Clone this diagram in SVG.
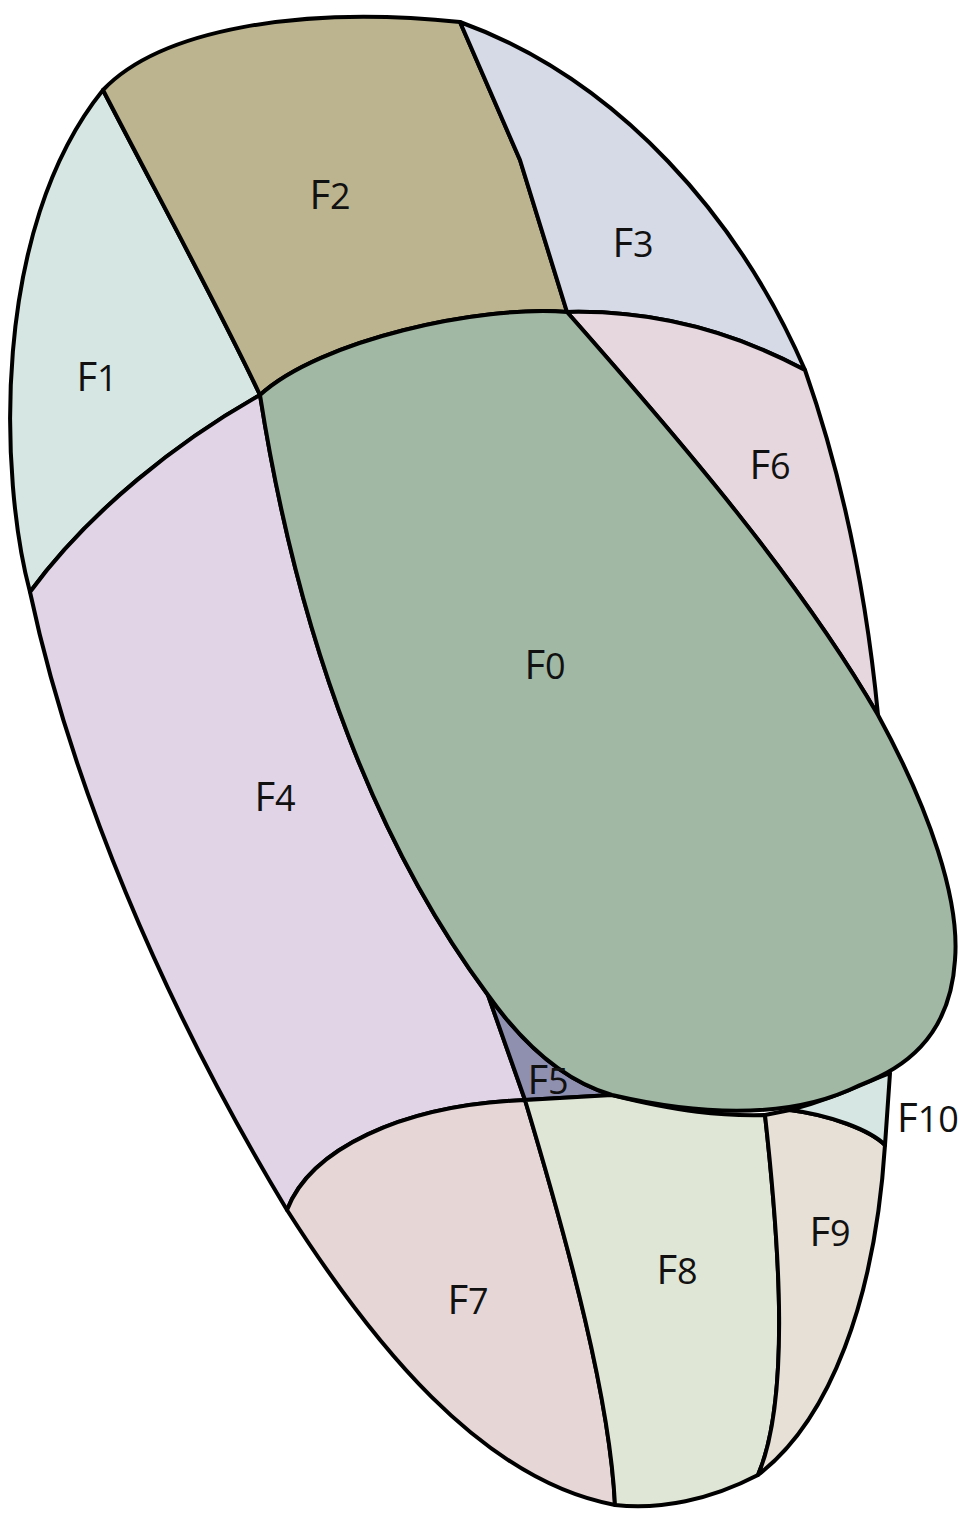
<svg xmlns="http://www.w3.org/2000/svg" width="961" height="1514" viewBox="0 0 961 1514">
<style>
path{stroke:#000;stroke-width:4;stroke-linejoin:round}
text{font-family:"Open Sans","Liberation Sans",sans-serif;font-size:40px;text-anchor:middle;fill:#111}
tspan{font-size:36px}
</style>
<rect width="961" height="1514" fill="#fff"/>
<g id="F1"><path fill="#d6e6e2" d="M103,90 C160,200 220,310 260,395 C180,440 90,510 30,592 C0,480 -10,230 103,90 Z"/><text x="97" y="391">F<tspan>1</tspan></text></g>
<g id="F2"><path fill="#bcb48f" d="M103,90 C160,30 300,5 460,22 L520,160 L567,312 C480,305 320,340 260,395 C220,310 160,200 103,90 Z"/><text x="330" y="209">F<tspan>2</tspan></text></g>
<g id="F3"><path fill="#d6dae6" d="M460,22 C620,80 740,220 805,370 C730,330 650,310 567,312 L520,160 Z"/><text x="633" y="257">F<tspan>3</tspan></text></g>
<g id="F6"><path fill="#e6d6de" d="M567,312 C650,310 730,330 805,370 C840,470 865,580 878,715 C800,580 680,440 567,312 Z"/><text x="770" y="479">F<tspan>6</tspan></text></g>
<g id="F4"><path fill="#e0d4e6" d="M260,395 C300,650 380,850 488,995 L525,1100 C400,1105 310,1150 287,1210 C160,1000 70,780 30,592 C90,510 180,440 260,395 Z"/><text x="275" y="811">F<tspan>4</tspan></text></g>
<g id="F5"><path fill="#8f90b0" d="M488,995 L525,1100 L612,1095 C560,1080 520,1040 488,995 Z"/></g>
<g id="F7"><path fill="#e6d6d6" d="M525,1100 C570,1250 610,1400 615,1505 C480,1480 370,1340 287,1210 C310,1150 400,1105 525,1100 Z"/><text x="468" y="1314">F<tspan>7</tspan></text></g>
<g id="F8"><path fill="#e0e6d6" d="M525,1100 L612,1095 C680,1112 720,1116 765,1115 C780,1250 790,1400 758,1475 C710,1500 660,1510 615,1505 C610,1400 570,1250 525,1100 Z"/><text x="677" y="1284">F<tspan>8</tspan></text></g>
<g id="F9"><path fill="#e6e0d6" d="M765,1115 L790,1110 C830,1115 870,1130 885,1145 C875,1300 830,1420 758,1475 C790,1400 780,1250 765,1115 Z"/><text x="830" y="1246">F<tspan>9</tspan></text></g>
<g id="F10"><path fill="#d6e6e2" d="M790,1110 C830,1100 860,1085 890,1073 L885,1145 C870,1130 830,1115 790,1110 Z"/><text x="928" y="1132">F<tspan>10</tspan></text></g>
<g id="F0"><path fill="#a0b8a4" d="M260,395 C320,340 480,305 567,312 C680,440 800,580 878,715 C930,810 960,900 955,960 C950,1040 900,1070 860,1085 C800,1115 720,1120 612,1095 C560,1080 520,1040 488,995 C380,850 300,650 260,395 Z"/><text x="545" y="679">F<tspan>0</tspan></text></g>
<g id="F5label"><text x="548" y="1094">F<tspan>5</tspan></text></g>
</svg>
